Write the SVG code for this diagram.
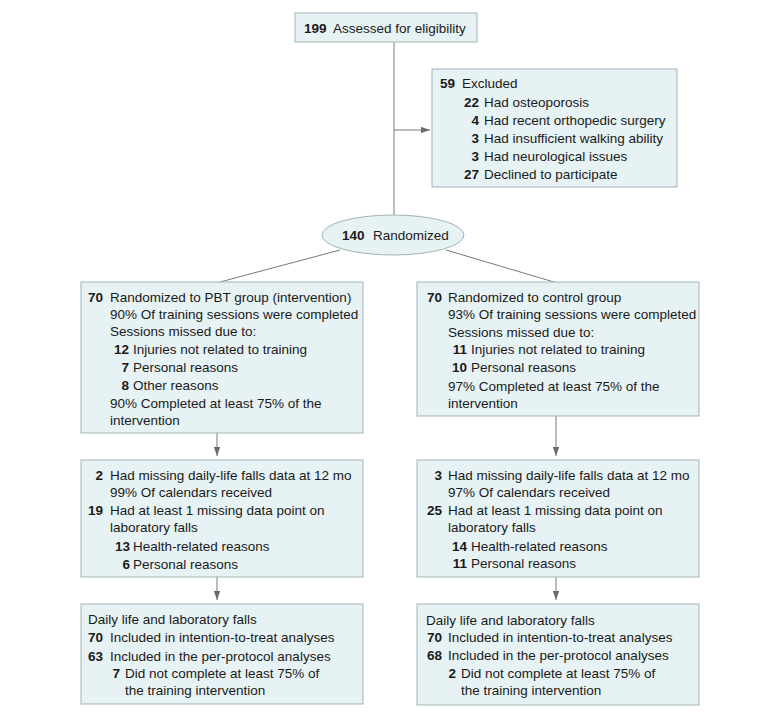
<svg xmlns="http://www.w3.org/2000/svg" width="780" height="715" viewBox="0 0 780 715">
<style>
.box{fill:#e6f2f3;stroke:#a3b3b5;stroke-width:1}
.t{font-family:"Liberation Sans",Arial,sans-serif;font-size:13.5px;fill:#1a1a1a}
.b{font-weight:bold}
.e{text-anchor:end}
.ln{stroke:#7a7a7a;stroke-width:1;fill:none}
</style>
<defs>
<marker id="ah" viewBox="0 0 10 7" refX="10" refY="3.5" markerWidth="9" markerHeight="6.3" markerUnits="userSpaceOnUse" orient="auto">
<path d="M0,0 L10,3.5 L0,7 z" fill="#6a6a6a"/>
</marker>
</defs>
<rect width="780" height="715" fill="#ffffff"/>
<g id="connectors">
<line class="ln" x1="394" y1="42" x2="394" y2="215"/>
<line class="ln" x1="394" y1="130" x2="430" y2="130" marker-end="url(#ah)"/>
<line class="ln" x1="340" y1="250" x2="220" y2="282"/>
<line class="ln" x1="446" y1="250" x2="554" y2="282"/>
<line class="ln" x1="217" y1="433" x2="217" y2="456" marker-end="url(#ah)"/>
<line class="ln" x1="217" y1="577" x2="217" y2="600" marker-end="url(#ah)"/>
<line class="ln" x1="556" y1="416" x2="556" y2="456" marker-end="url(#ah)"/>
<line class="ln" x1="556" y1="577" x2="556" y2="600" marker-end="url(#ah)"/>
</g>
<g id="assessed">
<rect class="box" x="295" y="13" width="182" height="29"/>
<text class="t" y="33"><tspan class="b" x="304">199</tspan><tspan x="333">Assessed for eligibility</tspan></text>
</g>
<g id="excluded">
<rect class="box" x="432" y="69" width="245" height="118"/>
<text class="t b e" x="455" y="88">59</text><text class="t" x="462" y="88">Excluded</text>
<text class="t b e" x="479" y="107">22</text><text class="t" x="484" y="107">Had osteoporosis</text>
<text class="t b e" x="479" y="125">4</text><text class="t" x="484" y="125">Had recent orthopedic surgery</text>
<text class="t b e" x="479" y="143">3</text><text class="t" x="484" y="143">Had insufficient walking ability</text>
<text class="t b e" x="479" y="161">3</text><text class="t" x="484" y="161">Had neurological issues</text>
<text class="t b e" x="479" y="179">27</text><text class="t" x="484" y="179">Declined to participate</text>
</g>
<g id="randomized">
<ellipse class="box" cx="393" cy="235" rx="71" ry="20"/>
<text class="t" y="240"><tspan class="b" x="342">140</tspan><tspan x="373">Randomized</tspan></text>
</g>
<g id="pbt-allocation">
<rect class="box" x="81" y="282" width="282" height="151"/>
<text class="t b e" x="103" y="302">70</text><text class="t" x="110" y="302">Randomized to PBT group (intervention)</text>
<text class="t" x="110" y="319">90% Of training sessions were completed</text>
<text class="t" x="110" y="336">Sessions missed due to:</text>
<text class="t b e" x="129" y="354">12</text><text class="t" x="133" y="354">Injuries not related to training</text>
<text class="t b e" x="129" y="372">7</text><text class="t" x="133" y="372">Personal reasons</text>
<text class="t b e" x="129" y="390">8</text><text class="t" x="133" y="390">Other reasons</text>
<text class="t" x="110" y="408">90% Completed at least 75% of the</text>
<text class="t" x="110" y="425">intervention</text>
</g>
<g id="control-allocation">
<rect class="box" x="417" y="282" width="282" height="134"/>
<text class="t b e" x="442" y="302">70</text><text class="t" x="448" y="302">Randomized to control group</text>
<text class="t" x="448" y="319">93% Of training sessions were completed</text>
<text class="t" x="448" y="337">Sessions missed due to:</text>
<text class="t b e" x="467" y="354">11</text><text class="t" x="471" y="354">Injuries not related to training</text>
<text class="t b e" x="467" y="372">10</text><text class="t" x="471" y="372">Personal reasons</text>
<text class="t" x="448" y="391">97% Completed at least 75% of the</text>
<text class="t" x="448" y="408">intervention</text>
</g>
<g id="pbt-followup">
<rect class="box" x="81" y="460" width="282" height="117"/>
<text class="t b e" x="103" y="480">2</text><text class="t" x="110" y="480">Had missing daily-life falls data at 12 mo</text>
<text class="t" x="110" y="497">99% Of calendars received</text>
<text class="t b e" x="103" y="515">19</text><text class="t" x="110" y="515">Had at least 1 missing data point on</text>
<text class="t" x="110" y="532">laboratory falls</text>
<text class="t b e" x="130" y="551">13</text><text class="t" x="133" y="551">Health-related reasons</text>
<text class="t b e" x="130" y="569">6</text><text class="t" x="133" y="569">Personal reasons</text>
</g>
<g id="control-followup">
<rect class="box" x="417" y="460" width="282" height="117"/>
<text class="t b e" x="442" y="480">3</text><text class="t" x="448" y="480">Had missing daily-life falls data at 12 mo</text>
<text class="t" x="448" y="497">97% Of calendars received</text>
<text class="t b e" x="442" y="515">25</text><text class="t" x="448" y="515">Had at least 1 missing data point on</text>
<text class="t" x="448" y="532">laboratory falls</text>
<text class="t b e" x="467" y="551">14</text><text class="t" x="471" y="551">Health-related reasons</text>
<text class="t b e" x="467" y="568">11</text><text class="t" x="471" y="568">Personal reasons</text>
</g>
<g id="pbt-analysis">
<rect class="box" x="81" y="604" width="282" height="100"/>
<text class="t" x="88" y="624">Daily life and laboratory falls</text>
<text class="t b e" x="103" y="642">70</text><text class="t" x="110" y="642">Included in intention-to-treat analyses</text>
<text class="t b e" x="103" y="661">63</text><text class="t" x="110" y="661">Included in the per-protocol analyses</text>
<text class="t b e" x="120" y="678">7</text><text class="t" x="125" y="678">Did not complete at least 75% of</text>
<text class="t" x="125" y="695">the training intervention</text>
</g>
<g id="control-analysis">
<rect class="box" x="417" y="604" width="282" height="101"/>
<text class="t" x="426" y="625">Daily life and laboratory falls</text>
<text class="t b e" x="442" y="642">70</text><text class="t" x="448" y="642">Included in intention-to-treat analyses</text>
<text class="t b e" x="442" y="660">68</text><text class="t" x="448" y="660">Included in the per-protocol analyses</text>
<text class="t b e" x="456" y="678">2</text><text class="t" x="461" y="678">Did not complete at least 75% of</text>
<text class="t" x="461" y="695">the training intervention</text>
</g>
</svg>
